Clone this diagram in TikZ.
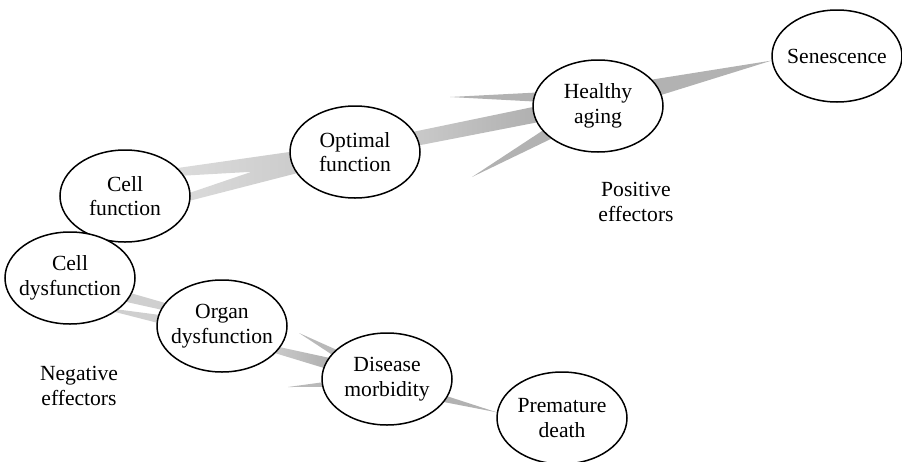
\documentclass[tikz,border=0pt]{standalone}
\usepackage{fontspec}
\setmainfont{Liberation Serif}
\usetikzlibrary{shapes.geometric,backgrounds,calc}

\tikzset{
  stage/.style={ellipse,draw,line width=1.5pt,fill=white,
    inner xsep=-12pt,inner ysep=0pt,
    minimum width=130pt,minimum height=92pt,align=center,
    font=\fontsize{21.6}{24.5}\selectfont},
  effector/.style={align=center,font=\fontsize{21.6}{24.5}\selectfont},
  lightband/.style={left color=gray!28,right color=gray!40},
  darkband/.style={left color=gray!42,right color=gray!62},
  prong/.style={fill=gray!60},
}

\begin{document}
\begin{tikzpicture}[x=1pt,y=-1pt]
  \useasboundingbox (0,0) rectangle (902,461);

        \begin{scope}[every node/.style={stage}]
          \node (cellfun)  at (125,196) {Cell\\function};
          \node (optimal)  at (355,152) {Optimal\\function};
          \node (healthy)  at (598,106) {Healthy\\aging};
          \node (senesc)   at (837,56)  {Senescence};
          \node (celldys)  at (70,278)  {Cell\\dysfunction};
          \node (organ)    at (222,326) {Organ\\dysfunction};
          \node (disease)  at (387,379) {Disease\\morbidity};
          \node (death)    at (562,418) {Premature\\death};
        \end{scope}

        \node[effector] (pos) at (636,202) {Positive\\effectors};
        \node[effector] (neg) at (79,386)  {Negative\\effectors};

        % free ends of the thin prongs
        \coordinate (notch) at ($(cellfun)!0.55!(optimal)$);
        \coordinate (posup) at (450,97);
        \coordinate (poslow) at (472,177);
        \coordinate (negup) at (299,333);
        \coordinate (neglow) at (288,387);

        \begin{pgfonlayer}{background}
          % good path
          \shade[lightband] (cellfun.28) -- (optimal.180) -- (optimal.200)
            -- (cellfun.-4) -- (cellfun.3) -- (notch) -- (cellfun.19) -- cycle;
          \shade[darkband] (optimal.19) -- (healthy.181) -- (healthy.195)
            -- (optimal.6) -- cycle;
          \path[prong] (posup) -- (healthy.168) -- (healthy.176) -- cycle;
          \path[prong] (poslow) -- (healthy.204) -- (healthy.215) -- cycle;
          \path[prong] (healthy.26) -- (senesc.184) -- (healthy.10) -- cycle;

          % bad path
          \path[fill=gray!38] (celldys.-14) -- (organ.158) -- (organ.165)
            -- (celldys.-23) -- cycle;
          \path[fill=gray!38] (celldys.-33) -- (organ.170) -- (organ.177)
            -- (celldys.-37) -- cycle;
          \shade[darkband] (organ.-20) -- (disease.160) -- (disease.170)
            -- (organ.-27) -- cycle;
          \path[fill=gray!55] (negup) -- (disease.150) -- (disease.156) -- cycle;
          \path[fill=gray!55] (neglow) -- (disease.183) -- (disease.187) -- cycle;
          \path[prong] (disease.-16) -- (death.175) -- (disease.-22) -- cycle;
        \end{pgfonlayer}

      \end{tikzpicture}
\end{document}
